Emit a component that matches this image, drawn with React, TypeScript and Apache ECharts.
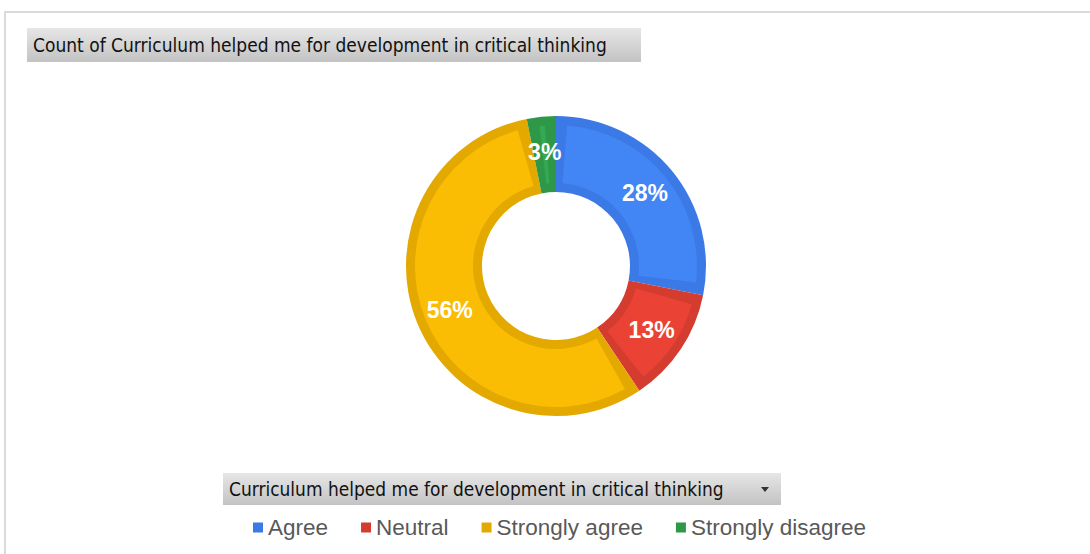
import React, { useEffect, useRef } from "react";
import * as echarts from "echarts";

const categories = ["Agree", "Neutral", "Strongly agree", "Strongly disagree"];
const counts = [9, 4, 18, 1];
const chartTitle = "Count of Curriculum helped me for development in critical thinking";
const fieldTitle = "Curriculum helped me for development in critical thinking";

const fillColors = ["#4285F4", "#EA4335", "#FBBC04", "#34A853"];
const edgeColors = ["#3B79E6", "#D53C30", "#E3A900", "#2E9748"];

const headFamily = '"DejaVu Sans"';
const headSize = 19;

function fitScale(text: string, font: string, target: number): number {
  const ctx = document.createElement("canvas").getContext("2d");
  if (!ctx) return 1;
  ctx.font = font;
  const w = ctx.measureText(text).width;
  return w > 0 ? target / w : 1;
}

export default function App() {
  const ref = useRef<HTMLDivElement>(null);
  useEffect(() => {
    document.body.style.margin = "0";
    if (!ref.current) return;
    const chart = echarts.init(ref.current, null, { renderer: "svg" });
    const font = `${headSize}px ${headFamily}`;
    const s1 = fitScale(chartTitle, font, 574);
    const s2 = fitScale(fieldTitle, font, 495);
    const grad = () =>
      new echarts.graphic.LinearGradient(0, 0, 0, 1, [
        { offset: 0, color: "#e6e6e6" },
        { offset: 1, color: "#c3c3c3" },
      ]);
    const option: any = {
      animation: false,
      backgroundColor: "#ffffff",
      legend: {
        data: categories,
        left: 253,
        top: 516,
        padding: 0,
        icon: "rect",
        itemWidth: 10,
        itemHeight: 10,
        itemGap: 33,
        selectedMode: false,
        textStyle: { fontFamily: '"Liberation Sans", Arial', fontSize: 22.5, color: "#595959" },
      },
      graphic: [
        {
          type: "rect",
          z: 0,
          shape: { x: 5, y: 12, width: 1200, height: 700 },
          style: { fill: "none", stroke: "#dadada", lineWidth: 2 },
        },
        {
          type: "rect",
          shape: { x: 27, y: 28, width: 614, height: 34 },
          style: { fill: grad() },
        },
        {
          type: "text",
          x: 33,
          y: 45,
          scaleX: s1,
          style: {
            text: chartTitle,
            font,
            fill: "#111111",
            verticalAlign: "middle",
          },
        },
        {
          type: "rect",
          shape: { x: 223, y: 473, width: 558, height: 32 },
          style: { fill: grad() },
        },
        {
          type: "text",
          x: 229,
          y: 489,
          scaleX: s2,
          style: {
            text: fieldTitle,
            font,
            fill: "#111111",
            verticalAlign: "middle",
          },
        },
        {
          type: "polygon",
          shape: { points: [[761, 487], [769, 487], [765, 492]] },
          style: { fill: "#333333" },
        },
      ],
      series: [
        {
          type: "pie",
          name: "edge",
          center: [556, 266],
          radius: [74, 150],
          startAngle: 90,
          clockwise: true,
          silent: true,
          label: { show: false },
          labelLine: { show: false },
          data: categories.map((c, i) => ({
            name: c,
            value: counts[i],
            itemStyle: { color: edgeColors[i] },
          })),
        },
        {
          type: "pie",
          name: "fill",
          center: [556, 266],
          radius: [83, 141],
          startAngle: 90,
          clockwise: true,
          padAngle: 9,
          label: {
            show: true,
            position: "inside",
            color: "#ffffff",
            fontFamily: '"Liberation Sans", Arial',
            fontWeight: "bold",
            fontSize: 23,
            formatter: (p: any) => `${Math.round(p.percent)}%`,
          },
          labelLine: { show: false },
          data: categories.map((c, i) => ({
            name: c,
            value: counts[i],
            itemStyle: { color: fillColors[i] },
          })),
        },
      ],
    };
    chart.setOption(option);
    return () => chart.dispose();
  }, []);
  return <div ref={ref} style={{ width: 1090, height: 554 }} />;
}
